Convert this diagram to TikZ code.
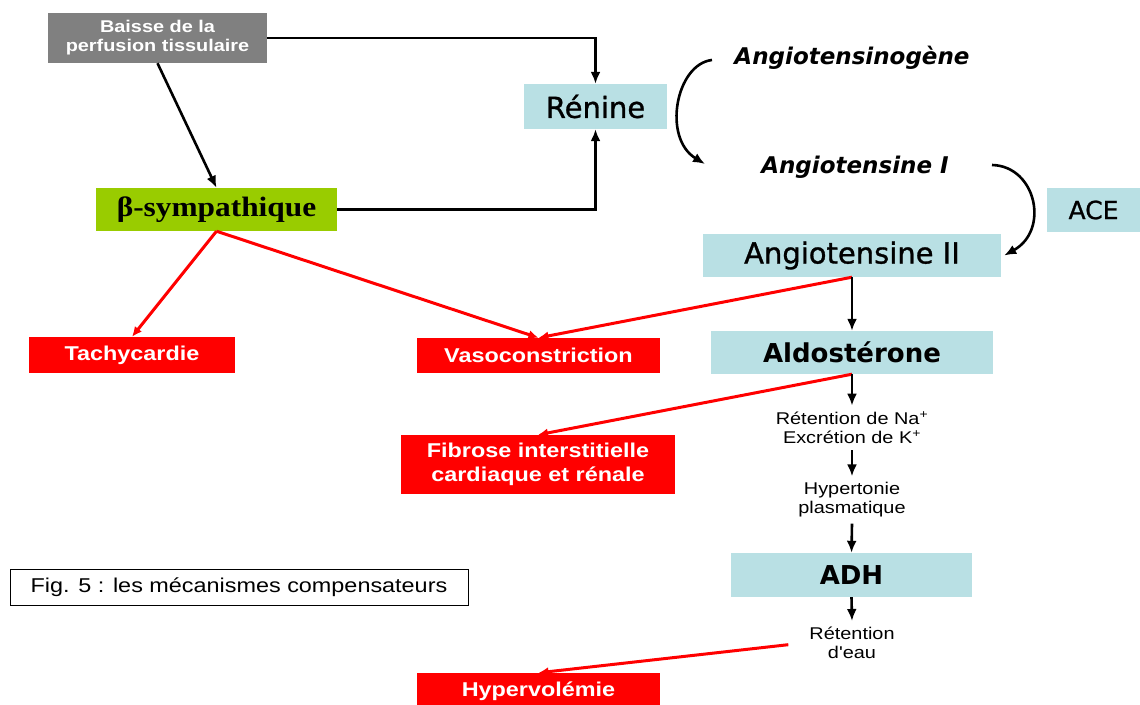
\documentclass[tikz,border=0pt]{standalone}
\usepackage{fontspec}
\usepackage{tikz}
\usetikzlibrary{arrows.meta}
\newfontfamily\arialw[FakeStretch=1.17]{Liberation Sans}
\newfontfamily\verdw[FakeBold=1]{DejaVu Sans}
\newfontfamily\verdb{DejaVu Sans}
\newfontfamily\timesw[FakeStretch=1.12]{Liberation Serif}
\definecolor{bleu}{RGB}{185,224,228}
\definecolor{gris}{RGB}{128,128,128}
\definecolor{vert}{RGB}{153,204,0}
\definecolor{rouge}{RGB}{255,0,0}

\begin{document}
\begin{tikzpicture}[x=1pt,y=-1pt,
    bluebox/.style={fill=bleu, inner sep=0pt, font=\verdw\fontsize{29}{32}\selectfont},
    redbox/.style={fill=rouge, text=white, inner sep=0pt, align=center, font=\arialw\bfseries\fontsize{20}{24}\selectfont},
    note/.style={align=center, inner sep=6pt, font=\arialw\fontsize{17}{19}\selectfont},
    enzyme/.style={font=\verdb\bfseries\itshape\fontsize{23}{26}\selectfont},
    fleche/.style={line width=2.6pt, -{Latex[length=12pt,width=10pt]}},
    flecherouge/.style={rouge, line width=3pt, -{Latex[length=10pt,width=9pt]}}]
    \useasboundingbox (0,0) rectangle (1140,704);
    % boites du haut
    \node[fill=gris, text=white, minimum width=219pt, minimum height=50pt, inner sep=0pt, align=center,
        font=\arialw\bfseries\fontsize{17}{19}\selectfont] (baisse) at (157.5,38) {Baisse de la\\perfusion tissulaire};
    \node[bluebox, minimum width=143pt, minimum height=45pt] (renine) at (595.5,106.5) {Rénine};
    \node[fill=vert, minimum width=241pt, minimum height=43pt, inner sep=0pt,
        font=\timesw\bfseries\fontsize{28}{32}\selectfont] (beta) at (216.5,209.5) {β-sympathique};
    \node[enzyme] (agen) at (852,58) {Angiotensinogène};
    \node[enzyme] (angI) at (855,167) {Angiotensine I};
    \node[bluebox, minimum width=93pt, minimum height=44pt, font=\verdw\fontsize{25}{28}\selectfont] (ace) at (1093.5,210) {ACE};
    \node[bluebox, minimum width=298pt, minimum height=43pt] (angII) at (852,255.5) {Angiotensine II};
    % colonne de droite
    \node[bluebox, minimum width=282pt, minimum height=43pt, font=\verdb\bfseries\fontsize{26}{30}\selectfont] (aldo) at (852,352.5) {Aldostérone};
    \node[note] (retNa) at (852,428) {Rétention de Na\textsuperscript{+}\\Excrétion de K\textsuperscript{+}};
    \node[note] (hyperto) at (852,500) {Hypertonie\\plasmatique};
    \node[bluebox, minimum width=241pt, minimum height=44pt, font=\verdb\bfseries\fontsize{26}{30}\selectfont] (adh) at (851.5,575) {ADH};
    \node[note] (reteau) at (852,643) {Rétention\\d'eau};
    % effets
    \node[redbox, minimum width=206pt, minimum height=36pt] (tachy) at (132,355) {Tachycardie};
    \node[redbox, minimum width=243pt, minimum height=35pt] (vaso) at (538.5,355.5) {Vasoconstriction};
    \node[redbox, minimum width=274pt, minimum height=59pt] (fibrose) at (538,464.5) {Fibrose interstitielle\\cardiaque et rénale};
    \node[redbox, minimum width=243pt, minimum height=36pt] (hypervol) at (538.5,691) {Hypervolémie};
    \node[draw, line width=1pt, minimum width=458pt, minimum height=36pt, inner sep=0pt,
        font=\arialw\fontsize{20}{22}\selectfont] (legende) at (239,587) {Fig. 5 : les mécanismes compensateurs};
    % fleches noires
    \draw[fleche] (baisse.east) -| (renine.north);
    \draw[fleche] (baisse.south) -- (beta.north);
    \draw[fleche] (beta.east) -| (renine.south);
    \coordinate (debut1) at (712,60);
    \coordinate (fin1) at (705,164);
    \coordinate (debut2) at (992,165);
    \draw[fleche] (debut1) .. controls (676,64) and (662,138) .. (fin1);
    \draw[fleche] (debut2) .. controls (1036,166) and (1050,230) .. ([xshift=3pt]angII.east);
    % fleches rouges
    \draw[flecherouge] (beta.south) -- (tachy.north);
    \draw[flecherouge] (beta.south) -- (vaso.north);
    \draw[flecherouge] (angII.south) -- (vaso.north);
    \draw[flecherouge] (aldo.south) -- (fibrose.north);
    \draw[flecherouge, shorten <=15pt] (reteau.west) -- (hypervol.north);
    \draw[fleche] (angII.south) -- (aldo.north);
    \draw[fleche] (aldo.south) -- (retNa.north);
    \draw[fleche] (retNa.south) -- (hyperto.north);
    \draw[fleche] (hyperto.south) -- (adh.north);
    \draw[fleche] (adh.south) -- (reteau.north);
\end{tikzpicture}
\end{document}
